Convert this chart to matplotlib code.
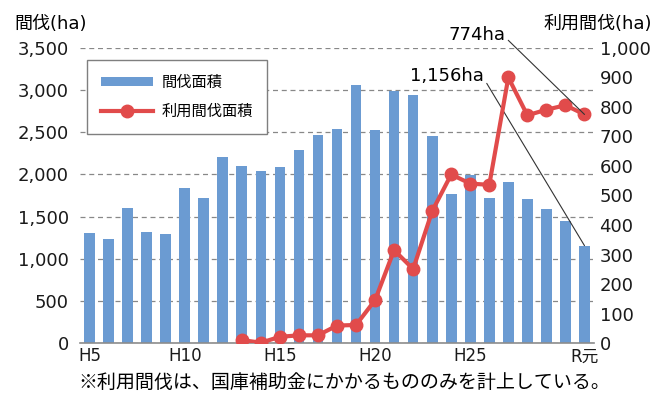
import matplotlib
matplotlib.use("Agg")
import matplotlib.pyplot as plt
import numpy as np

plt.rcParams['font.family'] = ['DejaVu Sans', 'Noto Sans CJK JP']

years = ["H5", "H6", "H7", "H8", "H9", "H10", "H11", "H12", "H13", "H14",
         "H15", "H16", "H17", "H18", "H19", "H20", "H21", "H22", "H23", "H24",
         "H25", "H26", "H27", "H28", "H29", "H30", "R元"]
thinning = [1303, 1240, 1607, 1319, 1299, 1840, 1718, 2211, 2104, 2041,
            2085, 2290, 2464, 2535, 3057, 2519, 2981, 2934, 2456, 1769,
            1994, 1718, 1907, 1710, 1588, 1449, 1156]
# 利用間伐 starts at H13
used_years = years[8:]
used = [11, 2, 22, 27, 27, 60, 62, 146, 315, 251, 447, 571, 540, 536,
        899, 771, 790, 805, 774]
tick_labels = ["H5", "H10", "H15", "H20", "H25", "R元"]

bar_color = "#6b9bd2"
line_color = "#e14b4b"

fig = plt.figure(figsize=(6.69, 4.03), dpi=100)
ax = fig.add_axes([80/669, 1-343.3/403, 514/669, 295.7/403])
ax2 = ax.twinx()

x = np.arange(len(years))
ax.bar(x, thinning, width=0.56, color=bar_color, label="間伐面積", zorder=2)
ux = np.array([years.index(y) for y in used_years])
ax2.plot(ux, used, color=line_color, lw=3, marker="o", ms=9,
         label="利用間伐面積", zorder=3)

ax.set_xlim(-0.5, len(years) - 0.5)
ax.set_ylim(0, 3500)
ax2.set_ylim(0, 1000)
ax.set_yticks(np.arange(0, 3501, 500))
ax.set_yticklabels([f"{v:,}" for v in range(0, 3501, 500)])
ax2.set_yticks(np.arange(0, 1001, 100))
ax2.set_yticklabels([f"{v:,}" for v in range(0, 1001, 100)])
ax.set_xticks([years.index(t) for t in tick_labels])
ax.set_xticklabels(tick_labels)

ax.yaxis.grid(True, linestyle=(0, (4, 3)), color="#888888", lw=0.9)
ax.set_axisbelow(True)

for a in (ax, ax2):
    for s in ("top", "left", "right"):
        a.spines[s].set_visible(False)
    a.spines["bottom"].set_color("#8c8c8c")
    a.spines["bottom"].set_linewidth(1.2)
ax2.spines["bottom"].set_visible(False)

ax.tick_params(axis="y", length=0, pad=8, labelsize=13, colors="#1a1a1a")
ax2.tick_params(axis="y", length=0, pad=4, labelsize=13, colors="#1a1a1a")
ax.tick_params(axis="x", length=0, pad=3, labelsize=12, colors="#1a1a1a")

fig.text(14/669, 1-24/403, "間伐(ha)", fontsize=13, va="center", ha="left")
fig.text(652/669, 1-24/403, "利用間伐(ha)", fontsize=13, va="center", ha="right")

ax.annotate("1,156ha", xy=(26, thinning[-1]), xytext=(20.72, 3163),
            ha="right", va="center", fontsize=13, annotation_clip=False,
            arrowprops=dict(arrowstyle="-", color="#333333", lw=0.8,
                            shrinkA=0, shrinkB=0, relpos=(1.0, 0.35)),
            zorder=5)
ax2.annotate("774ha", xy=(26, used[-1]), xytext=(21.85, 1043),
             ha="right", va="center", fontsize=13, annotation_clip=False,
             arrowprops=dict(arrowstyle="-", color="#333333", lw=0.8,
                             shrinkA=0, shrinkB=0, relpos=(1.0, 0.35)),
             zorder=5)

h1, l1 = ax.get_legend_handles_labels()
h2, l2 = ax2.get_legend_handles_labels()
leg = ax2.legend(h1 + h2, l1 + l2, loc="upper left",
                 bbox_to_anchor=(87/669, 1-60/403),
                 bbox_transform=fig.transFigure, fontsize=11,
                 fancybox=False, framealpha=1, edgecolor="#7f7f7f",
                 handlelength=3.4, handleheight=0.5, borderpad=0.9,
                 labelspacing=0.8, handletextpad=0.6, borderaxespad=0)
leg.get_frame().set_linewidth(1.0)
for t in leg.get_texts():
    t.set_fontfamily(['Noto Sans CJK JP'])

fig.text(344/669, 1-383/403, "※利用間伐は、国庫補助金にかかるもののみを計上している。",
         fontsize=13.7, ha="center", va="center",
         family=['Noto Sans CJK JP', 'DejaVu Sans'])

fig.savefig("out.png", dpi=100)
